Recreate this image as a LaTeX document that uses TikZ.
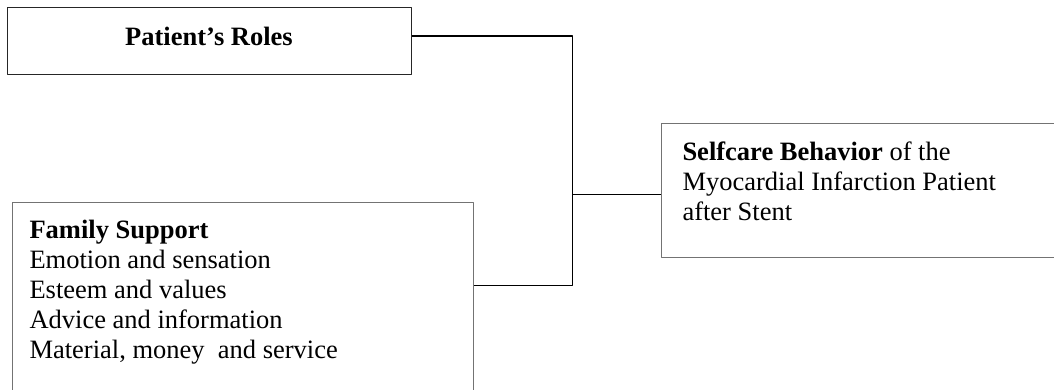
\documentclass[tikz,border=0pt]{standalone}
\usepackage{fontspec}
\setmainfont{Liberation Serif}
\begin{document}
\begin{tikzpicture}[x=1pt, y=-1pt, line join=round,
		box/.style={draw=black!55, line width=1pt, inner sep=0pt, anchor=north west},
		txt/.style={anchor=base west, inner sep=0pt, align=left, font=\fontsize{26.5}{30}\selectfont},
		link/.style={draw=black, line width=1.4pt}]
	\useasboundingbox (0,0) rectangle (1054,389);
	\clip (0,0) rectangle (1054,389);
	\node[box, draw=black!85, minimum width=403.4pt, minimum height=66.7pt] (roles) at (7.3,7.3) {};
	\node[box, minimum width=460.4pt, minimum height=220pt] (support) at (12.3,201.7) {};
	\node[box, minimum width=420pt, minimum height=134pt] (selfcare) at (661,123.3) {};
	% multi-line texts sit on the baseline of their last line
	\node[txt, anchor=base, font=\fontsize{26.5}{30}\selectfont\bfseries] (rolestxt) at (209,45) {Patient's Roles};
	\node[txt] (supporttxt) at (29.3,358.5) {\textbf{Family Support}\\Emotion and sensation\\Esteem and values\\Advice and information\\Material, money\ \ and service};
	\node[txt] (selfcaretxt) at (682.3,220.5) {\textbf{Selfcare Behavior} of the\\Myocardial Infarction Patient\\after Stent};
	\coordinate (top) at (572.3,36);
	\coordinate (mid) at (572.3,194.3);
	\coordinate (bot) at (572.3,285.7);
	\draw[link] (roles.east |- top) -- (top) -- (bot) -- (support.east |- bot);
	\draw[link] (mid) -- (selfcare.west |- mid);
\end{tikzpicture}
\end{document}
